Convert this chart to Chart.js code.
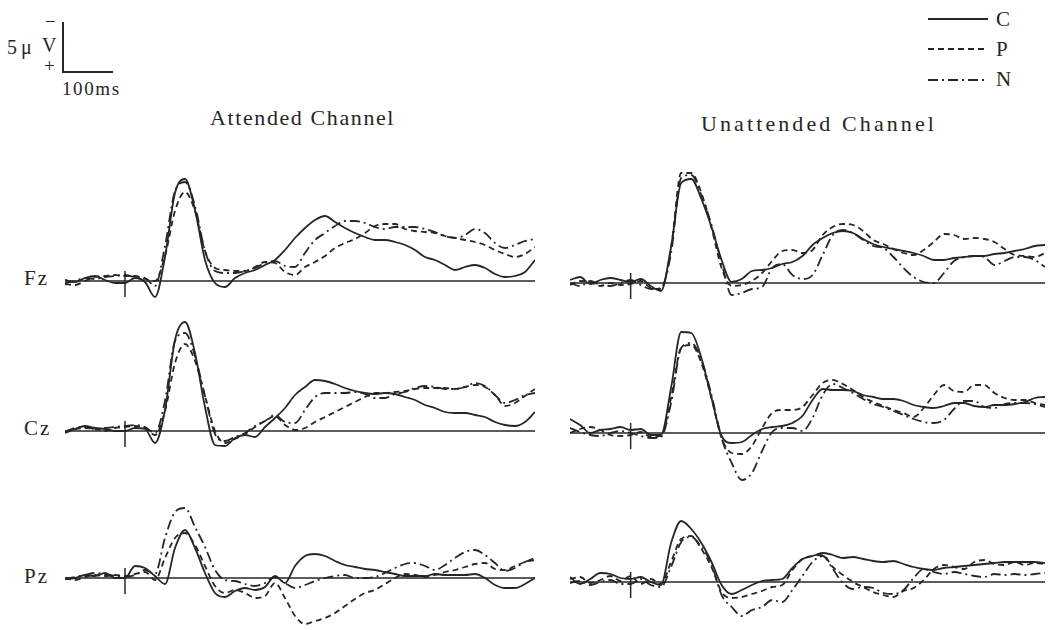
<!DOCTYPE html>
<html>
<head>
<meta charset="utf-8">
<script src="https://cdn.jsdelivr.net/npm/chart.js@4.4.1/dist/chart.umd.min.js"></script>
<style>
  body { margin: 0; background: #fff; }
  #page { position: relative; width: 1052px; height: 630px; overflow: hidden; font-family: "Liberation Serif", "DejaVu Serif", serif; color: #262626; }
  canvas { position: absolute; }
  .txt { position: absolute; white-space: nowrap; line-height: 1; }
  .site { font-size: 21px; left: 24px; letter-spacing: 2px; }
  .title { font-size: 22px; }
</style>
</head>
<body>
<div id="page">
  <!-- scale bar -->
  <div class="txt" style="left:45px;top:12px;font-size:19px">−</div>
  <div class="txt" style="left:7px;top:37px;font-size:20px">5</div>
  <div class="txt" style="left:21px;top:37px;font-size:20px">μ</div>
  <div class="txt" style="left:42px;top:35px;font-size:20px">V</div>
  <div class="txt" style="left:44px;top:56px;font-size:19px">+</div>
  <div style="position:absolute;left:62px;top:22px;width:2px;height:51px;background:#262626"></div>
  <div style="position:absolute;left:62px;top:71px;width:51px;height:2px;background:#262626"></div>
  <div class="txt" style="left:62px;top:79px;font-size:19px;letter-spacing:1.6px">100ms</div>

  <!-- legend -->
  <svg style="position:absolute;left:925px;top:8px" width="70" height="80">
    <line x1="3" y1="11" x2="63" y2="11" stroke="#262626" stroke-width="1.8"/>
    <line x1="3" y1="41" x2="63" y2="41" stroke="#262626" stroke-width="1.8" stroke-dasharray="6 4"/>
    <line x1="3" y1="72" x2="63" y2="72" stroke="#262626" stroke-width="1.8" stroke-dasharray="10 4 2 4"/>
  </svg>
  <div class="txt" style="left:996px;top:9px;font-size:21px">C</div>
  <div class="txt" style="left:996px;top:39px;font-size:21px">P</div>
  <div class="txt" style="left:996px;top:69px;font-size:21px">N</div>

  <div class="txt title" style="left:210px;top:107px;letter-spacing:1.6px">Attended Channel</div>
  <div class="txt title" style="left:701px;top:113px;letter-spacing:3.1px">Unattended Channel</div>

  <div class="txt site" style="top:268px">Fz</div>
  <div class="txt site" style="top:418px">Cz</div>
  <div class="txt site" style="top:566px">Pz</div>

  <canvas id="attFz" width="470" height="180" style="left:65px;top:161px"></canvas>
  <canvas id="attCz" width="470" height="180" style="left:65px;top:311px"></canvas>
  <canvas id="attPz" width="470" height="180" style="left:65px;top:458px"></canvas>
  <canvas id="unaFz" width="475" height="180" style="left:570px;top:163px"></canvas>
  <canvas id="unaCz" width="475" height="180" style="left:570px;top:313px"></canvas>
  <canvas id="unaPz" width="475" height="180" style="left:570px;top:462px"></canvas>
</div>
<script>
// time points (ms) shared by every trace
const times = [-120, -100, -80, -60, -40, -20, 0, 20, 40, 60, 80, 100, 120, 140, 160, 180, 200,
  220, 240, 260, 280, 300, 320, 340, 360, 380, 400, 420, 440, 460, 480, 500, 520, 540, 560, 580, 600,
  620, 640, 660, 680, 700, 720, 740, 760, 780, 800, 820]

// amplitudes in uV, negative = up
// Attended channel
const attFzC = [-0.1, 0.1, -0.3, -0.5, -0.1, 0.2, 0.2, -0.3, 0.1, 1.6, -2.4, -8.8, -10.2, -7.1, -2.1, 0.2, 0.6,
  -0.3, -0.8, -1.1, -1.6, -2.1, -3.1, -4.3, -5.3, -6.1, -6.5, -5.9, -5.3, -4.8, -4.4, -4.1,
  -4.1, -3.9, -3.6, -3.1, -2.4, -2.1, -1.6, -1.1, -1.4, -1.6, -1.3, -0.7, -0.4, -0.5, -0.9, -2.1]
const attFzP = [0.3, 0.4, 0.0, -0.4, -0.5, -0.6, -0.5, -0.5, -0.2, 0.0, -2.5, -7.0, -8.9, -7.0, -3.0, -1.3, -1.1,
  -1.0, -1.0, -1.4, -1.9, -1.8, -0.9, -0.6, -1.4, -1.9, -2.5, -3.3, -3.8, -4.2, -4.8, -5.5,
  -5.7, -5.7, -5.2, -5.0, -4.9, -4.8, -4.5, -4.3, -4.1, -3.9, -3.6, -3.1, -2.7, -2.4, -2.7, -3.4]
const attFzN = [0.2, 0.0, -0.3, -0.2, -0.4, -0.5, -0.6, -0.4, -0.3, 0.5, -3.5, -9.0, -9.9, -7.5, -3.0, -1.0, -0.8,
  -0.8, -1.0, -1.3, -1.8, -2.0, -1.5, -1.4, -2.8, -4.1, -4.8, -5.5, -6.0, -6.0, -5.8, -5.4,
  -5.2, -5.4, -5.4, -5.4, -5.2, -4.9, -4.5, -4.3, -4.6, -5.2, -4.8, -3.8, -3.3, -3.6, -4.0, -4.2]

const attCzC = [0.2, -0.2, -0.5, -0.3, -0.2, 0.0, 0.0, -0.3, -0.2, 1.2, -2.1, -9.1, -10.9, -7.8, -2.4, 1.4, 1.5,
  0.7, 0.4, 0.6, -0.4, -1.3, -2.3, -3.6, -4.4, -5.1, -5.0, -4.7, -4.3, -4.0, -3.8, -3.7,
  -3.8, -3.7, -3.4, -3.1, -2.6, -2.3, -1.9, -1.8, -1.8, -1.6, -1.4, -0.9, -0.6, -0.5, -0.9, -1.9]
const attCzP = [0.0, -0.2, -0.3, -0.2, 0.0, -0.3, -0.4, -0.5, -0.3, 0.4, -2.0, -6.8, -8.7, -7.0, -3.5, 0.0, 1.2,
  0.8, 0.3, -0.4, -1.0, -1.5, -0.6, -0.1, -0.3, -0.9, -1.4, -1.9, -2.4, -2.9, -3.4, -3.8,
  -3.8, -3.9, -4.0, -4.2, -4.3, -4.3, -4.3, -4.2, -4.4, -4.6, -4.4, -3.6, -2.5, -2.8, -3.5, -4.2]
const attCzN = [0.1, -0.3, -0.4, -0.2, -0.3, -0.4, -0.5, -0.6, -0.4, 0.2, -3.0, -9.0, -9.8, -7.5, -3.5, 0.3, 1.0,
  0.6, 0.2, -0.5, -1.0, -1.6, -0.9, -0.8, -2.1, -3.4, -3.8, -3.8, -3.8, -3.9, -3.7, -3.3,
  -3.3, -3.7, -3.9, -4.3, -4.5, -4.4, -4.2, -4.2, -4.4, -4.8, -4.5, -3.6, -2.8, -3.1, -3.6, -3.8]

const attPzC = [0.1, 0.0, -0.3, -0.2, -0.5, 0.0, 0.0, -1.2, -1.0, -0.2, 0.6, -3.0, -4.8, -3.0, -0.5, 1.5, 1.9,
  1.3, 1.0, 1.2, 0.9, -0.2, 0.5, -1.2, -2.2, -2.4, -2.2, -1.7, -1.3, -1.1, -0.9, -0.8,
  -0.6, -0.4, -0.2, -0.2, -0.2, -0.4, -0.3, -0.3, -0.3, -0.4, 0.0, 0.7, 1.0, 1.0, 0.6, 0.0]
const attPzP = [0.0, 0.2, -0.1, -0.3, -0.2, -0.3, -0.2, -0.4, -0.6, 0.2, -2.0, -4.0, -4.5, -3.3, -1.2, 0.8, 1.5,
  1.2, 1.5, 2.0, 1.8, 0.5, 2.0, 3.8, 4.6, 4.3, 4.0, 3.5, 2.8, 2.1, 1.5, 1.2,
  0.6, 0.0, -0.4, -0.3, -0.1, -0.3, -0.6, -0.8, -1.1, -1.4, -1.5, -0.9, -0.8, -1.2, -1.6, -1.8]
const attPzN = [0.1, -0.1, -0.3, -0.5, -0.4, -0.2, -0.1, -0.3, -0.8, -0.4, -4.0, -6.6, -7.0, -5.1, -3.1, -0.8, 0.2,
  0.3, 0.6, 0.8, 0.5, -0.1, 0.5, 1.0, 0.7, 0.3, 0.0, -0.2, -0.3, 0.0, 0.0, -0.1,
  -0.5, -1.0, -1.4, -1.5, -1.2, -0.8, -1.3, -2.0, -2.6, -2.8, -2.3, -1.5, -0.7, -1.0, -1.6, -2.0]

// Unattended channel
const unaFzC = [-0.3, -0.6, 0.1, -0.3, -0.5, -0.3, -0.1, -0.4, 0.3, 0.8, -3.6, -10.0, -10.4, -8.4, -5.6, -2.3, -0.1,
  -0.4, -1.2, -1.3, -1.5, -1.9, -2.1, -2.7, -3.8, -4.5, -5.0, -5.2, -5.0, -4.4, -3.9, -3.6,
  -3.4, -3.2, -3.0, -2.7, -2.3, -2.3, -2.5, -2.6, -2.7, -2.7, -2.9, -3.0, -3.2, -3.4, -3.7, -3.8]
const unaFzP = [0.2, -0.2, -0.1, 0.3, 0.0, 0.2, 0.1, -0.2, 0.5, 0.6, -3.5, -11.0, -11.0, -9.0, -5.5, -1.5, 0.3,
  0.2, -0.2, -1.0, -2.2, -3.2, -3.3, -3.0, -3.3, -4.8, -5.6, -5.9, -5.8, -5.2, -4.3, -3.9,
  -3.4, -3.0, -2.8, -3.3, -4.1, -4.9, -4.8, -4.4, -4.5, -4.4, -4.1, -3.4, -2.8, -2.7, -2.6, -3.0]
const unaFzN = [0.0, 0.3, -0.2, 0.2, 0.3, 0.0, -0.3, 0.2, 0.6, 0.5, -3.0, -10.5, -10.8, -8.8, -5.8, -2.0, 1.2,
  1.0, 0.6, 0.4, -1.5, -1.9, -0.8, -0.4, -0.8, -2.8, -4.8, -5.3, -5.0, -4.3, -3.7, -3.5,
  -2.6, -1.5, -0.6, -0.1, 0.0, -1.0, -2.2, -2.6, -2.7, -2.6, -1.8, -2.2, -2.6, -2.6, -2.3, -1.6]

const unaCzC = [-1.4, -0.8, 0.0, -0.3, -0.4, -0.6, -0.3, -0.4, 0.2, 0.2, -4.5, -10.1, -10.0, -7.5, -3.5, 0.3, 1.0,
  0.9, 0.2, -0.4, -0.6, -0.7, -1.0, -1.7, -3.3, -4.4, -4.3, -4.3, -4.2, -3.8, -3.6, -3.4,
  -3.4, -3.2, -2.8, -2.6, -2.5, -2.7, -3.0, -3.0, -2.7, -2.6, -2.8, -2.8, -2.9, -3.1, -3.5, -3.6]
const unaCzP = [0.0, -0.4, -0.6, -0.3, 0.2, 0.3, 0.2, -0.1, 0.4, 0.3, -3.5, -8.5, -8.8, -7.0, -3.5, 0.5, 2.0,
  2.1, 1.3, -0.5, -2.0, -2.3, -2.3, -2.6, -3.8, -5.0, -5.3, -4.9, -4.3, -3.6, -3.1, -2.7,
  -2.3, -2.0, -1.6, -2.5, -3.8, -4.8, -4.2, -4.1, -4.8, -4.8, -4.0, -3.5, -3.3, -3.3, -3.0, -2.8]
const unaCzN = [-0.5, -0.1, 0.2, 0.3, 0.0, -0.2, 0.0, 0.3, 0.5, 0.4, -3.0, -8.5, -9.0, -7.3, -3.8, 0.5, 3.0,
  4.7, 4.0, 1.8, -0.1, -0.5, -0.5, -0.2, -1.5, -3.8, -4.9, -4.5, -4.0, -3.4, -2.9, -2.6,
  -2.2, -1.8, -1.4, -1.1, -1.0, -1.3, -2.4, -3.2, -3.2, -2.6, -2.5, -2.9, -3.0, -3.0, -2.9, -2.6]

const unaPzC = [-0.5, 0.2, -0.3, -0.9, -0.8, -0.4, -0.3, -0.5, 0.0, 0.3, -3.9, -6.1, -5.3, -3.9, -2.0, 0.3, 1.2,
  0.8, 0.3, -0.1, -0.2, -0.3, -1.4, -2.3, -2.6, -2.9, -2.7, -2.4, -2.5, -2.3, -2.1, -2.0,
  -2.1, -1.8, -1.5, -1.3, -1.2, -1.4, -1.5, -1.6, -1.7, -1.8, -1.9, -2.0, -2.0, -2.0, -2.0, -1.9]
const unaPzP = [-0.3, -0.5, 0.1, -0.2, -0.6, -0.1, -0.6, 0.2, -0.3, 0.2, -2.0, -4.3, -4.6, -3.3, -1.5, 1.0, 1.6,
  1.5, 1.2, 0.9, 0.5, 0.3, -1.2, -2.3, -2.6, -2.7, -1.5, -0.7, 0.0, 0.5, 1.0, 1.3,
  1.5, 0.9, 0.6, -0.2, -1.3, -1.7, -1.5, -1.3, -2.0, -2.2, -1.8, -1.7, -2.0, -1.7, -1.9, -1.8]
const unaPzN = [0.1, -0.1, 0.3, 0.0, -0.2, 0.2, 0.2, -0.3, 0.3, 0.5, -1.5, -4.0, -4.5, -3.5, -1.8, 1.3, 2.5,
  3.4, 2.8, 2.5, 1.8, 2.0, 0.8, -0.6, -2.0, -2.6, -1.3, 0.1, 0.7, 0.5, 0.6, 1.1,
  1.2, 0.8, -0.4, -1.3, -1.0, -0.8, -1.0, -0.8, -0.6, -0.5, -0.8, -0.7, -0.8, -0.7, -0.8, -0.9]

// baseline and stimulus onset marker
const baseX = [-120, 820]
const onsetY = [-1.0, 1.6]

const ink = '#262626'

function pts(vals) {
  return times.map((t, i) => ({ x: t, y: vals[i] }))
}

function trace(vals, dash) {
  return {
    data: pts(vals),
    borderColor: ink,
    borderWidth: 1.8,
    borderDash: dash,
    cubicInterpolationMode: 'monotone',
    pointRadius: 0,
    clip: false
  }
}

function drawPanel(id, c, p, n) {
  let ctx = document.getElementById(id).getContext('2d')
  new Chart(ctx, {
    type: 'line',
    data: {
      datasets: [
        { data: baseX.map(x => ({ x: x, y: 0 })), borderColor: ink, borderWidth: 1.3, pointRadius: 0, clip: false },
        { data: onsetY.map(y => ({ x: 0, y: y })), borderColor: ink, borderWidth: 1.5, pointRadius: 0, clip: false },
        trace(c, []),
        trace(p, [6, 4]),
        trace(n, [10, 4, 2, 4])
      ]
    },
    options: {
      responsive: false,
      animation: false,
      layout: { padding: 0 },
      plugins: { legend: { display: false }, tooltip: { enabled: false } },
      scales: {
        x: { type: 'linear', min: -120, max: 820, display: false },
        y: { min: -12, max: 6, reverse: true, display: false }
      }
    }
  })
}

drawPanel('attFz', attFzC, attFzP, attFzN)
drawPanel('attCz', attCzC, attCzP, attCzN)
drawPanel('attPz', attPzC, attPzP, attPzN)
drawPanel('unaFz', unaFzC, unaFzP, unaFzN)
drawPanel('unaCz', unaCzC, unaCzP, unaCzN)
drawPanel('unaPz', unaPzC, unaPzP, unaPzN)
</script>
</body>
</html>
